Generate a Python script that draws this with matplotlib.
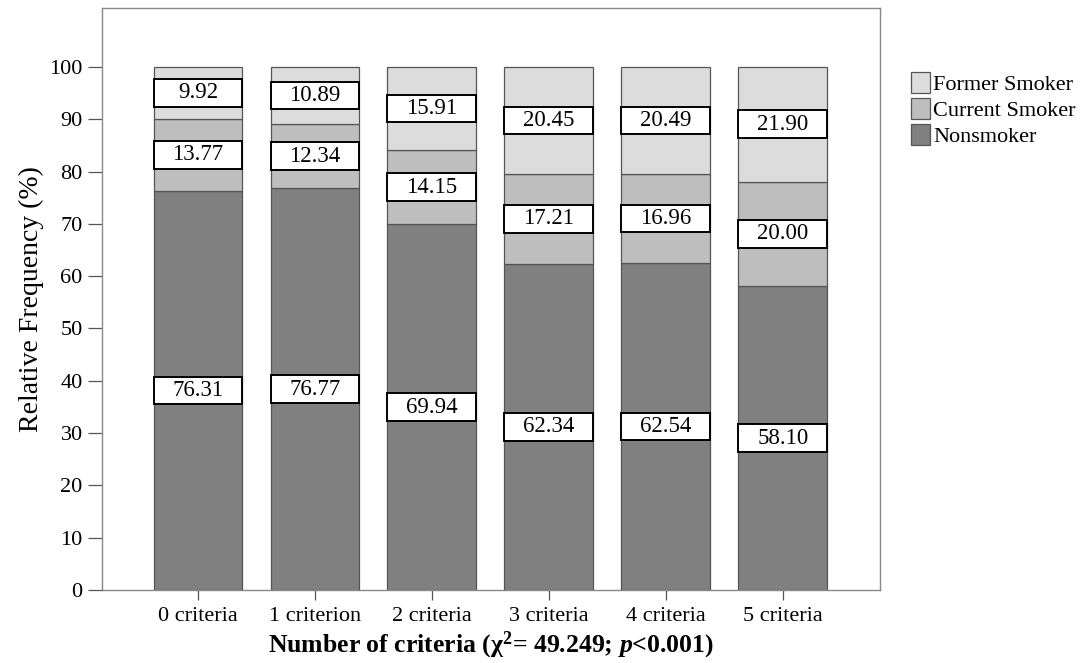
import numpy as np
import matplotlib
matplotlib.use('Agg')
import matplotlib.pyplot as plt
from matplotlib.patches import Rectangle, Patch

plt.rcParams['font.family'] = ['Liberation Serif', 'DejaVu Serif']
plt.rcParams['mathtext.fontset'] = 'custom'
plt.rcParams['mathtext.rm'] = 'Liberation Serif:bold'
plt.rcParams['mathtext.bf'] = 'Liberation Serif:bold'
plt.rcParams['mathtext.it'] = 'Liberation Serif:italic:bold'

# data (percent)
categories = ['0 criteria', '1 criterion', '2 criteria', '3 criteria', '4 criteria', '5 criteria']
nonsmoker = [76.31, 76.77, 69.94, 62.34, 62.54, 58.10]
current_smoker = [13.77, 12.34, 14.15, 17.21, 16.96, 20.00]
former_smoker = [9.92, 10.89, 15.91, 20.45, 20.49, 21.90]

series_names = ['Nonsmoker', 'Current Smoker', 'Former Smoker']
series_vals = [nonsmoker, current_smoker, former_smoker]
colors = ['#808080', '#bebebe', '#dcdcdc']

fig = plt.figure(figsize=(10.88, 6.63), dpi=100)
ax = fig.add_axes([0.0938, 0.1101, 0.715, 0.878])

x = np.arange(len(categories))
width = 0.76
box_h = 5.3
bottom = np.zeros(len(categories))
for name, vals, c in zip(series_names, series_vals, colors):
    vals = np.array(vals)
    ax.bar(x, vals, width, bottom=bottom, color=c, edgecolor='#555555', linewidth=0.9, zorder=2)
    mids = bottom + vals / 2
    for xi, m, v in zip(x, mids, vals):
        ax.add_patch(Rectangle((xi - width / 2, m - box_h / 2), width, box_h,
                               facecolor='white', edgecolor='black', linewidth=1.4, zorder=3))
        ax.text(xi, m, f'{v:.2f}', ha='center', va='center', fontsize=16.5, zorder=4)
    bottom = bottom + vals

ax.set_xlim(-0.82, 5.83)
ax.set_ylim(0, 111.3)
ax.set_yticks(np.arange(0, 101, 10))
ax.set_xticks(x)
ax.set_xticklabels(categories)
ax.tick_params(axis='y', direction='out', length=10, width=0.9, color='#555555', labelsize=16, pad=4)
ax.tick_params(axis='x', direction='out', length=7, width=0.9, color='#555555', labelsize=16, pad=5)
for s in ax.spines.values():
    s.set_color('#888888')
    s.set_linewidth(1.0)

ax.set_ylabel('Relative Frequency (%)', fontsize=20, labelpad=4)
ax.set_xlabel('Number of criteria (χ$^2$= 49.249; $p$<0.001)', fontsize=18.5,
              fontweight='bold', labelpad=3)

handles = [Patch(facecolor=c, edgecolor='#555555', linewidth=0.9)
           for c in colors[::-1]]
fig.legend(handles, series_names[::-1], loc='upper left',
           bbox_to_anchor=(0.837, 0.891), frameon=False, fontsize=16,
           handlelength=0.86, handleheight=1.08, labelspacing=0.12,
           handletextpad=0.15, borderpad=0, borderaxespad=0)

fig.savefig('out.png', dpi=100)
